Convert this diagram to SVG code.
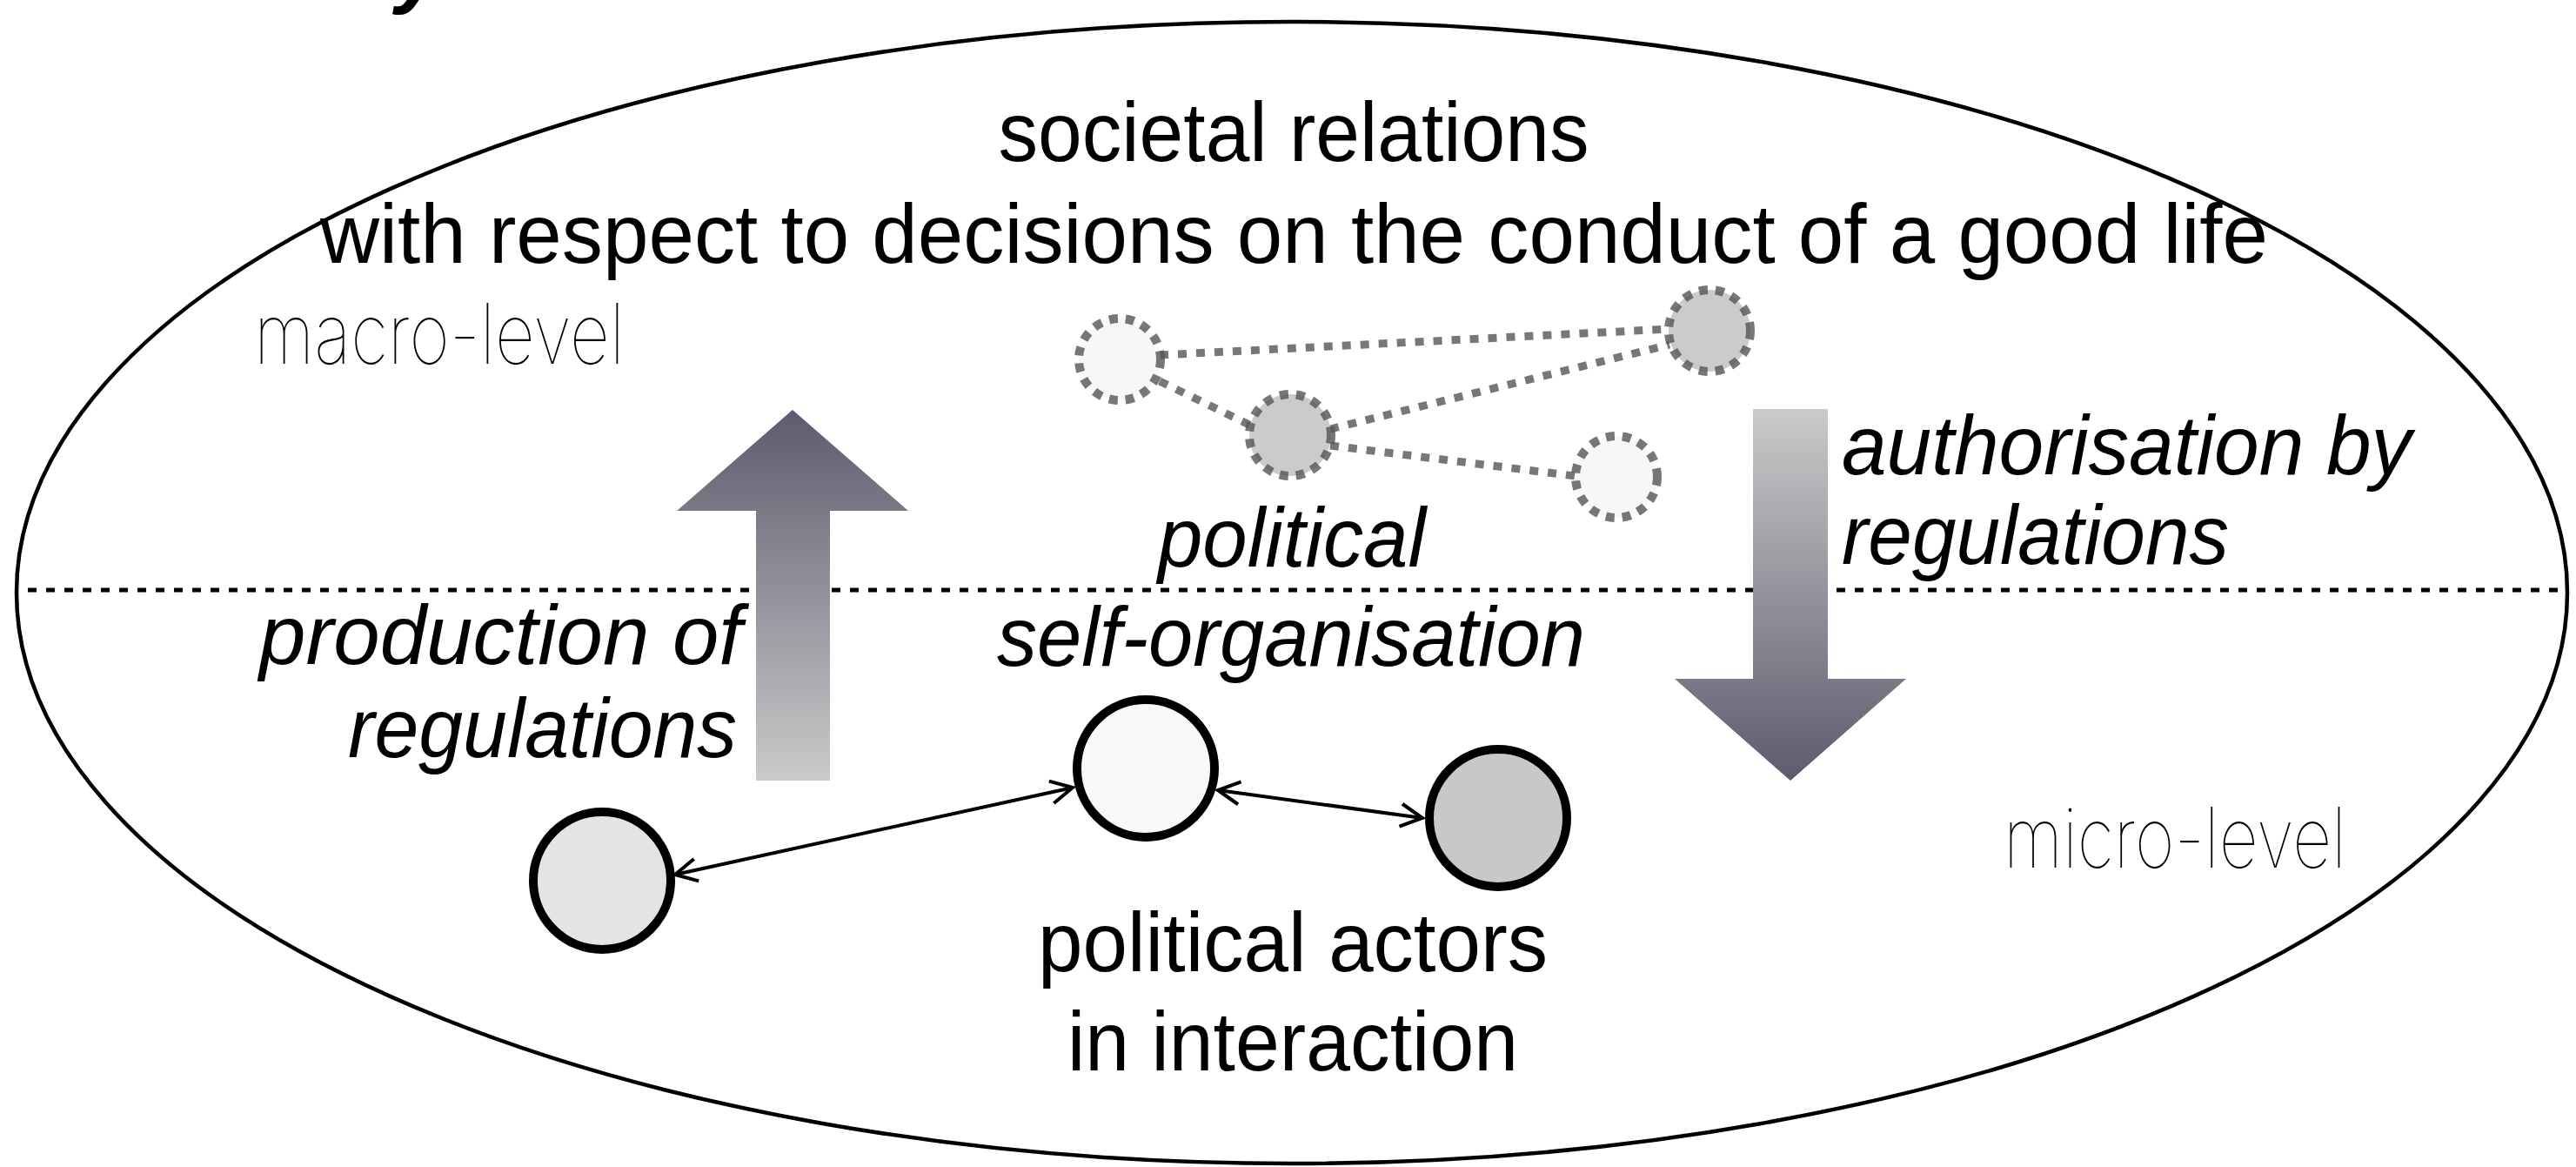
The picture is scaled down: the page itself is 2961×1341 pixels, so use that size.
<svg xmlns="http://www.w3.org/2000/svg" width="2961" height="1341" viewBox="0 0 2961 1341">
<style>
.t{font-family:"Liberation Sans",Arial,sans-serif;font-size:96px;fill:#000}
.i{font-style:italic}
.thin{font-family:Inter,Roboto,"Liberation Sans",sans-serif;font-weight:100;font-size:96px;fill:#000}
.actor{stroke:#000;stroke-width:10}
.dnode{stroke:#555;stroke-opacity:0.8;stroke-width:10;stroke-dasharray:10 9}
.dlink{stroke:#555;stroke-opacity:0.8;stroke-width:9;stroke-dasharray:10 11;fill:none}
.link{stroke:#000;stroke-width:4;fill:none;marker-start:url(#chev);marker-end:url(#chev)}
</style>
<defs>
<marker id="chev" markerUnits="userSpaceOnUse" markerWidth="60" markerHeight="60" viewBox="-40 -30 60 60" refX="0" refY="0" orient="auto-start-reverse">
<path d="M-25,-13 L0,0 L-25,13" fill="none" stroke="#000" stroke-width="4"/>
</marker>
<linearGradient id="gUp" x1="0" y1="0" x2="0" y2="1">
<stop offset="0" stop-color="#5c5b6d"/>
<stop offset="1" stop-color="#cacaca"/>
</linearGradient>
<linearGradient id="gDown" x1="0" y1="0" x2="0" y2="1">
<stop offset="0" stop-color="#cacaca"/>
<stop offset="1" stop-color="#5c5b6d"/>
</linearGradient>
</defs>
<rect width="2961" height="1341" fill="#fff"/>
<text class="t" x="455" y="-3" style="font-weight:bold;font-style:italic">y</text>
<g id="frame">
<ellipse cx="1485" cy="681" rx="1466" ry="656" fill="none" stroke="#000" stroke-width="4.5"/>
<line x1="32" y1="678" x2="2946" y2="678" stroke="#000" stroke-width="5" stroke-dasharray="10 11"/>
</g>
<g id="labels">
<text class="t" x="1487" y="185" text-anchor="middle" textLength="679" lengthAdjust="spacingAndGlyphs">societal relations</text>
<text class="t" x="368" y="302" textLength="2239" lengthAdjust="spacingAndGlyphs">with respect to decisions on the conduct of a good life</text>
<text class="thin" x="292" y="418" textLength="426" lengthAdjust="spacingAndGlyphs">macro-level</text>
<text class="thin" x="2303" y="997" textLength="394" lengthAdjust="spacingAndGlyphs">micro-level</text>
<text class="t i" x="1331" y="651" textLength="308" lengthAdjust="spacingAndGlyphs">political</text>
<text class="t i" x="1146" y="765" textLength="676" lengthAdjust="spacingAndGlyphs">self-organisation</text>
<text class="t i" x="298" y="763" textLength="555" lengthAdjust="spacingAndGlyphs">production of</text>
<text class="t i" x="400" y="870" textLength="447" lengthAdjust="spacingAndGlyphs">regulations</text>
<text class="t i" x="2117" y="545" textLength="655" lengthAdjust="spacingAndGlyphs">authorisation by</text>
<text class="t i" x="2117" y="648" textLength="445" lengthAdjust="spacingAndGlyphs">regulations</text>
<text class="t" x="1193" y="1116" textLength="586" lengthAdjust="spacingAndGlyphs">political actors</text>
<text class="t" x="1227" y="1230" textLength="518" lengthAdjust="spacingAndGlyphs">in interaction</text>
</g>
<g id="arrow-up">
<polygon points="911,471 1044,587 954,587 954,897 869,897 869,587 778,587" fill="url(#gUp)"/>
</g>
<g id="arrow-down">
<polygon points="2015,470 2101,470 2101,780 2191,780 2058,897 1925,780 2015,780" fill="url(#gDown)"/>
</g>
<g id="connectors">
<line class="dlink" x1="1333" y1="408" x2="1919" y2="378"/>
<line class="dlink" x1="1333" y1="438" x2="1440" y2="490"/>
<line class="dlink" x1="1529" y1="493" x2="1919" y2="396"/>
<line class="dlink" x1="1529" y1="512" x2="1811" y2="547"/>
<line class="link" x1="776" y1="1005" x2="1233" y2="905"/>
<line class="link" x1="1400" y1="908" x2="1635" y2="940"/>
</g>
<g id="node-macro-a"><circle class="dnode" cx="1287" cy="413" r="47" fill="#f7f7f7"/></g>
<g id="node-macro-b"><circle class="dnode" cx="1483" cy="500" r="47" fill="#cbcbcb"/></g>
<g id="node-macro-c"><circle class="dnode" cx="1965" cy="380" r="47" fill="#cbcbcb"/></g>
<g id="node-macro-d"><circle class="dnode" cx="1858" cy="548" r="47" fill="#f7f7f7"/></g>
<g id="actor-1"><circle class="actor" cx="692" cy="1012" r="79" fill="#e4e4e4"/></g>
<g id="actor-2"><circle class="actor" cx="1317" cy="883" r="79" fill="#f8f8f8"/></g>
<g id="actor-3"><circle class="actor" cx="1722" cy="940" r="79" fill="#c8c8c8"/></g>
</svg>
